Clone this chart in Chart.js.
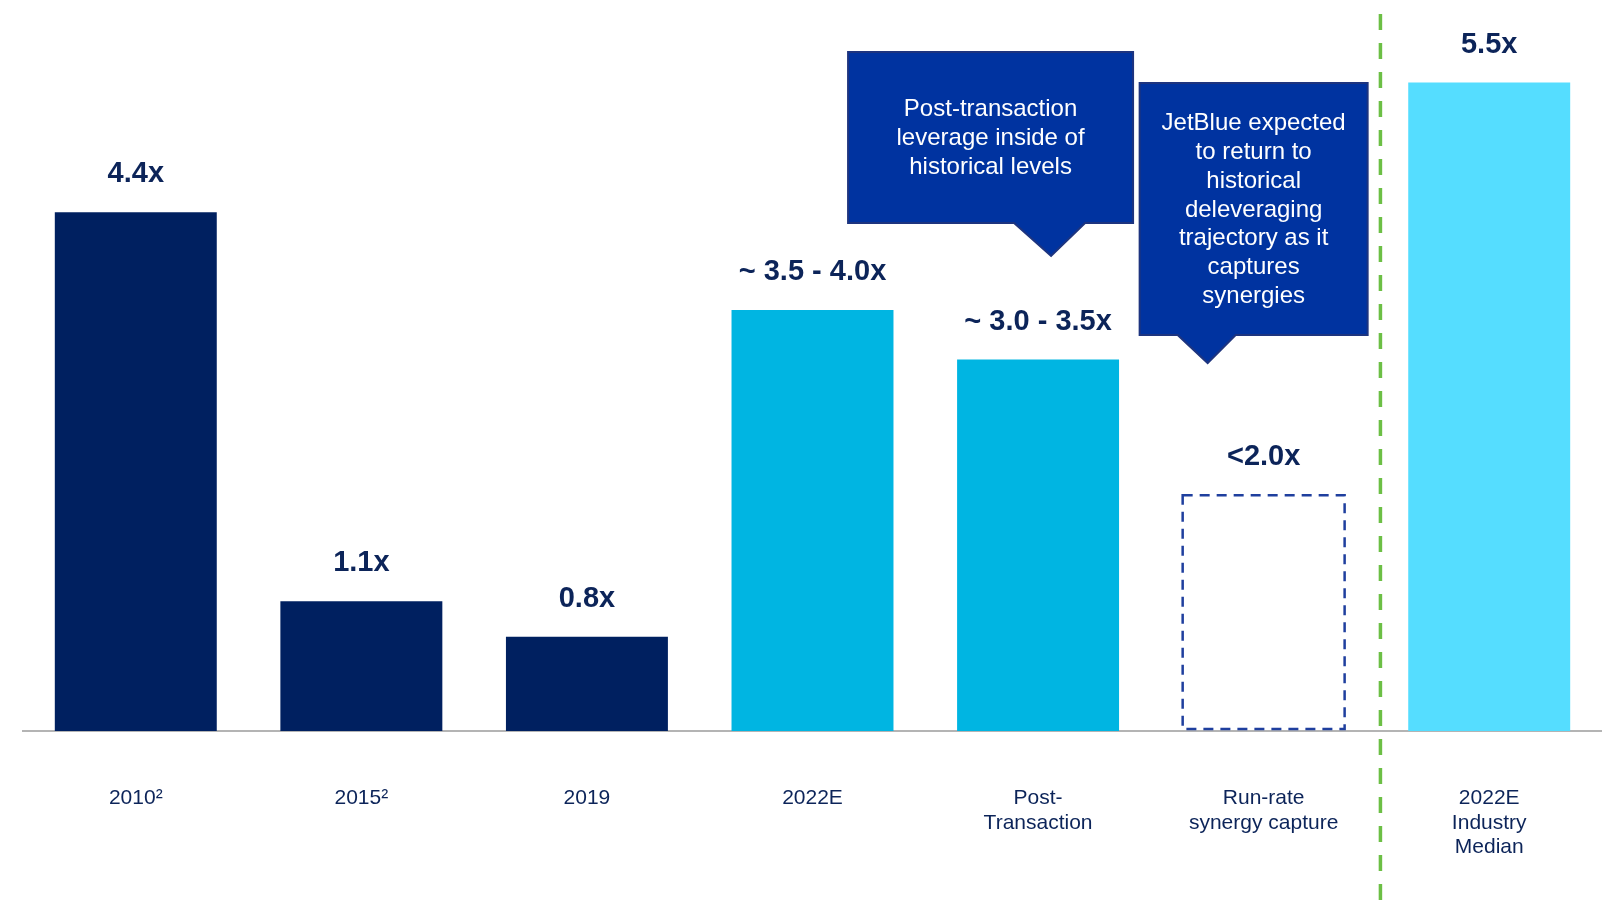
<!DOCTYPE html>
<html>
<head>
<meta charset="utf-8">
<style>
  html, body { margin: 0; padding: 0; background: #ffffff; }
  #wrap { width: 1602px; height: 902px; position: relative; }
</style>
<script src="https://cdn.jsdelivr.net/npm/chart.js@4.4.1/dist/chart.umd.min.js"></script>
</head>
<body>
<div id="wrap"><canvas id="chart" width="1602" height="902"></canvas></div>
<script>
// Net debt / EBITDA leverage by period
const categories = [
  '2010\u00B2',
  '2015\u00B2',
  '2019',
  '2022E',
  ['Post-', 'Transaction'],
  ['Run-rate', 'synergy capture'],
  ['2022E', 'Industry', 'Median']
];
const leverage = [4.4, 1.1, 0.8, 3.57, 3.15, 2.0, 5.5];
const valueLabels = ['4.4x', '1.1x', '0.8x', '~ 3.5 - 4.0x', '~ 3.0 - 3.5x', '<2.0x', '5.5x'];
const barColors = ['#002060', '#002060', '#002060', '#00B5E2', '#00B5E2', 'rgba(0,0,0,0)', '#55DDFF'];
const projectedIndex = 5;   // outlined (dashed) bar
const dividerAfter = 5;     // vertical separator before the industry bar

const calloutPostText = ['Post-transaction', 'leverage inside of', 'historical levels'];
const calloutSynergyText = ['JetBlue expected', 'to return to', 'historical', 'deleveraging',
                            'trajectory as it', 'captures', 'synergies'];

const FONT = '"Liberation Sans", Arial, Helvetica, sans-serif';
const NAVY_TEXT = '#0c2459';

// value labels above each bar
const valueLabelPlugin = {
  id: 'valueLabels',
  afterDatasetsDraw(chart) {
    const ctx = chart.ctx;
    const meta = chart.getDatasetMeta(0);
    ctx.save();
    ctx.font = 'bold 29px ' + FONT;
    ctx.fillStyle = NAVY_TEXT;
    ctx.textAlign = 'center';
    ctx.textBaseline = 'middle';
    meta.data.forEach((bar, i) => {
      ctx.fillText(valueLabels[i], bar.x, bar.y - 38);
    });
    ctx.restore();
  }
};

// dashed outline for the run-rate bar
const dashedBarPlugin = {
  id: 'dashedBar',
  afterDatasetsDraw(chart) {
    const ctx = chart.ctx;
    const bar = chart.getDatasetMeta(0).data[projectedIndex];
    const half = bar.width / 2;
    ctx.save();
    ctx.strokeStyle = '#1f3f9e';
    ctx.lineWidth = 2.5;
    ctx.setLineDash([10, 7]);
    ctx.strokeRect(bar.x - half, bar.y, bar.width, bar.base - bar.y - 2);
    ctx.restore();
  }
};

// green dashed separator
const dividerPlugin = {
  id: 'divider',
  afterDatasetsDraw(chart) {
    const ctx = chart.ctx;
    const xs = chart.scales.x;
    const x = (xs.getPixelForValue(dividerAfter) + xs.getPixelForValue(dividerAfter + 1)) / 2 + 4;
    ctx.save();
    ctx.strokeStyle = '#6cbf45';
    ctx.lineWidth = 3.5;
    ctx.setLineDash([16, 13]);
    ctx.beginPath();
    ctx.moveTo(x, 14);
    ctx.lineTo(x, chart.height);
    ctx.stroke();
    ctx.restore();
  }
};

// speech-bubble callouts pointing at the post-transaction and synergy bars
function drawCallout(ctx, box, ptr, lines) {
  ctx.save();
  ctx.beginPath();
  ctx.moveTo(box.l, box.t);
  ctx.lineTo(box.r, box.t);
  ctx.lineTo(box.r, box.b);
  ctx.lineTo(ptr.r, box.b);
  ctx.lineTo(ptr.x, ptr.y);
  ctx.lineTo(ptr.l, box.b);
  ctx.lineTo(box.l, box.b);
  ctx.closePath();
  ctx.fillStyle = '#0033a0';
  ctx.fill();
  ctx.strokeStyle = '#1d347f';
  ctx.lineWidth = 2;
  ctx.stroke();
  ctx.fillStyle = '#ffffff';
  ctx.font = '24px ' + FONT;
  ctx.textAlign = 'center';
  ctx.textBaseline = 'middle';
  const lh = 28.8;
  const cx = (box.l + box.r) / 2;
  const cy = (box.t + box.b) / 2 + 1;
  const y0 = cy - (lines.length - 1) * lh / 2;
  lines.forEach((s, i) => ctx.fillText(s, cx, y0 + i * lh));
  ctx.restore();
}

const calloutPlugin = {
  id: 'callouts',
  afterDatasetsDraw(chart) {
    const ctx = chart.ctx;
    const xs = chart.scales.x;
    const c1 = xs.getPixelForValue(4) + 4;
    drawCallout(ctx,
      { l: c1 - 194, r: c1 + 91, t: 52, b: 223 },
      { l: c1 - 28, r: c1 + 43, x: c1 + 9, y: 256 },
      calloutPostText);
    const c2 = xs.getPixelForValue(5) + 4;
    drawCallout(ctx,
      { l: c2 - 128, r: c2 + 100, t: 83, b: 335 },
      { l: c2 - 90, r: c2 - 32, x: c2 - 60, y: 363 },
      calloutSynergyText);
  }
};

new Chart(document.getElementById('chart'), {
  type: 'bar',
  data: {
    labels: categories,
    datasets: [{
      data: leverage,
      backgroundColor: barColors,
      borderWidth: 0,
      categoryPercentage: 1,
      barPercentage: 0.718
    }]
  },
  options: {
    responsive: false,
    animation: false,
    devicePixelRatio: 1,
    layout: { padding: { left: 23, right: 0, top: 0, bottom: 0 } },
    plugins: { legend: { display: false }, tooltip: { enabled: false } },
    scales: {
      x: {
        grid: { display: false, drawTicks: false },
        border: { display: true, color: '#b4b4b4', width: 2 },
        ticks: {
          color: NAVY_TEXT,
          font: { family: FONT, size: 21, lineHeight: 1.17 },
          padding: 55,
          maxRotation: 0,
          autoSkip: false
        },
        afterFit(scale) { scale.height = 171; }
      },
      y: {
        display: false,
        min: 0,
        max: 6.2
      }
    }
  },
  plugins: [dividerPlugin, dashedBarPlugin, calloutPlugin, valueLabelPlugin]
});
</script>
</body>
</html>
